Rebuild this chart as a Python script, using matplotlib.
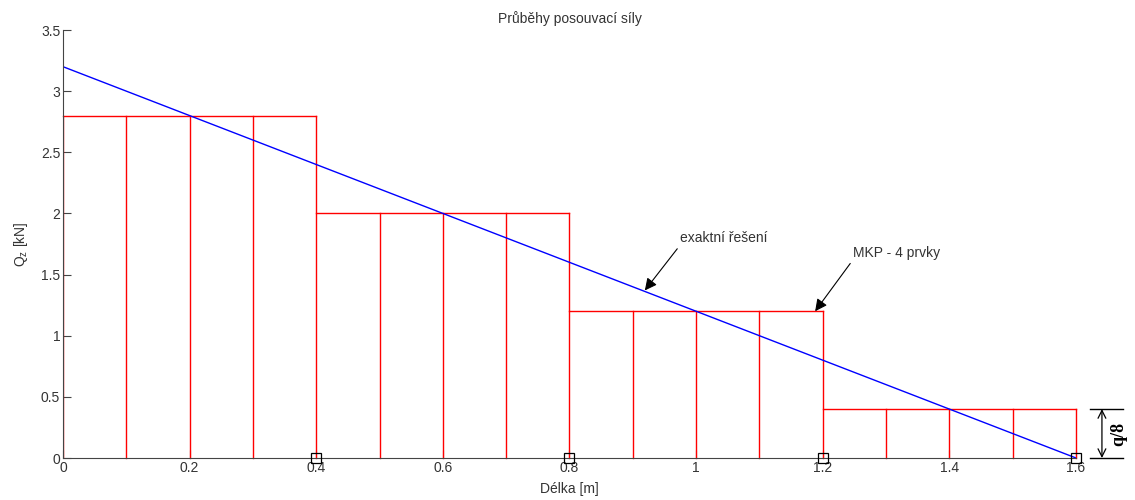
import matplotlib
matplotlib.use("Agg")
import matplotlib.pyplot as plt
import numpy as np

# Data
x_exact = [0.0, 1.6]
q_exact = [3.2, 0.0]
elem_edges = [0.0, 0.4, 0.8, 1.2, 1.6]
elem_values = [2.8, 2.0, 1.2, 0.4]
sub_step = 0.1
nodes_x = [0.4, 0.8, 1.2, 1.6]
nodes_y = [0, 0, 0, 0]

plt.rcParams['font.family'] = ['Liberation Sans', 'DejaVu Sans']
fig = plt.figure(figsize=(11.35, 5.0), dpi=100)
ax = fig.add_axes([0.0555, 0.084, 0.8925, 0.856])

tc = '#333333'
# red FEM step diagram
for i, v in enumerate(elem_values):
    a, b = elem_edges[i], elem_edges[i + 1]
    ax.plot([a, b], [v, v], color='red', lw=1, clip_on=False)
    xs = np.round(np.arange(a + sub_step, b + 1e-9, sub_step), 3)
    for xv in xs:
        ax.plot([xv, xv], [0, v], color='red', lw=1, clip_on=False)
ax.plot([0, 0], [0, elem_values[0]], color='red', lw=1)

ax.plot(x_exact, q_exact, color='blue', lw=1)
ax.plot(nodes_x, nodes_y, 's', mfc='none', mec='black', ms=7, mew=0.9, clip_on=False, zorder=5)

ax.set_xlim(0, 1.6)
ax.set_ylim(0, 3.5)
ax.set_xticks([0, 0.2, 0.4, 0.6, 0.8, 1.0, 1.2, 1.4, 1.6])
ax.set_xticklabels(['0', '0.2', '0.4', '0.6', '0.8', '1', '1.2', '1.4', '1.6'])
ax.set_yticks([0, 0.5, 1, 1.5, 2, 2.5, 3, 3.5])
ax.set_yticklabels(['0', '0.5', '1', '1.5', '2', '2.5', '3', '3.5'])
for s in ['top', 'right']:
    ax.spines[s].set_visible(False)
for s in ['left', 'bottom']:
    ax.spines[s].set_color('#444444')
ax.tick_params(direction='in', length=6, colors='#444444', labelcolor=tc, labelsize=10, pad=2)

ax.set_title('Průběhy posouvací síly', color=tc, fontsize=10, pad=5)
ax.set_xlabel('Délka [m]', color=tc, fontsize=10, labelpad=5)
ax.set_ylabel('Q$_{\\mathregular{z}}$ [kN]', color=tc, fontsize=10, labelpad=8)

ax.annotate('exaktní řešení', xy=(0.919, 1.37), xytext=(0.975, 1.80),
            fontsize=10, color=tc, ha='left', va='center',
            arrowprops=dict(arrowstyle='-|>', color='black', lw=0.8, mutation_scale=18,
                            shrinkA=1, shrinkB=0, relpos=(0.0, 0.0)))
ax.annotate('MKP - 4 prvky', xy=(1.188, 1.20), xytext=(1.248, 1.68),
            fontsize=10, color=tc, ha='left', va='center',
            arrowprops=dict(arrowstyle='-|>', color='black', lw=0.8, mutation_scale=18,
                            shrinkA=1, shrinkB=0, relpos=(0.0, 0.0)))

# q/8 dimension
ax.plot([1.622, 1.675], [0, 0], color='black', lw=1, clip_on=False)
ax.plot([1.622, 1.675], [0.4, 0.4], color='black', lw=1, clip_on=False)
ax.annotate('', xy=(1.641, 0.0), xytext=(1.641, 0.4), annotation_clip=False,
            arrowprops=dict(arrowstyle='<->', color='black', lw=0.9, mutation_scale=14,
                            shrinkA=0, shrinkB=0))
ax.text(1.668, 0.2, 'q/8', rotation=90, ha='center', va='center', fontsize=13,
        fontweight='bold', family=['Liberation Serif', 'DejaVu Serif'], color='black', clip_on=False)

fig.savefig('out.png', dpi=100)
